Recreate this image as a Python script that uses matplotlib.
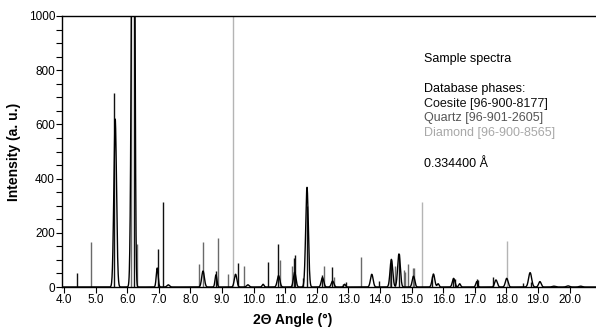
import numpy as np
import matplotlib
matplotlib.use('Agg')
import matplotlib.pyplot as plt

plt.rcParams['font.family'] = ['Liberation Sans', 'DejaVu Sans']

# sample spectrum peaks: position (deg), height, width (sigma)
peak_pos = [5.62, 6.17, 6.22, 6.95, 7.30, 8.40, 8.81, 9.43, 9.82, 10.30, 10.79, 11.30,
            11.69, 12.18, 12.50, 12.88, 13.74, 14.36, 14.60, 15.06, 15.69, 15.84, 16.33,
            16.52, 17.06, 17.67, 18.01, 18.75, 19.06, 19.50, 19.95, 20.35]
peak_int = [620, 1600, 1200, 70, 8, 59, 45, 47, 8, 10, 42, 55,
            368, 35, 22, 10, 47, 102, 122, 40, 48, 12, 32,
            12, 20, 26, 32, 53, 20, 3, 4, 3]
peak_wid = [0.042, 0.04, 0.03, 0.03, 0.04, 0.042, 0.03, 0.04, 0.04, 0.03, 0.042, 0.04,
            0.042, 0.04, 0.04, 0.03, 0.042, 0.042, 0.042, 0.04, 0.042, 0.03, 0.04,
            0.03, 0.03, 0.042, 0.042, 0.048, 0.04, 0.05, 0.05, 0.05]

# database sticks
coesite_pos = [4.40, 5.59, 6.22, 6.96, 7.13, 8.81, 9.51, 10.45, 10.77, 11.29, 11.32, 11.57,
               11.68, 12.15, 12.47, 12.84, 12.92, 13.98, 14.36, 14.60, 15.63, 16.30, 16.36,
               17.06, 17.11, 17.57, 18.53, 18.78]
coesite_int = [50, 716, 2000, 140, 312, 59, 87, 93, 157, 106, 118, 32,
               300, 44, 74, 10, 20, 22, 100, 120, 40, 30, 28,
               28, 26, 38, 16, 20]
quartz_pos = [4.85, 6.12, 6.32, 8.26, 8.40, 8.86, 9.18, 9.71, 10.83, 11.22, 12.23, 12.54,
              13.40, 14.33, 14.47, 14.75, 14.80, 14.88, 15.05, 15.09]
quartz_int = [167, 2000, 157, 85, 167, 182, 49, 79, 100, 77, 77, 38,
              112, 90, 77, 63, 57, 84, 71, 71]
diamond_pos = [9.36, 15.33, 18.03]
diamond_int = [2000, 315, 171]

x = np.linspace(3.9, 20.9, 4000)
y = np.zeros_like(x)
for p, h, w in zip(peak_pos, peak_int, peak_wid):
    y += h * np.exp(-0.5 * ((x - p) / w) ** 2)

fig = plt.figure(figsize=(5.96, 3.27), dpi=100)
ax = fig.add_axes([62/596, 1-287/327, 1-62/596, (287-16)/327])

ax.vlines(diamond_pos, 0, diamond_int, colors='#b4b4b4', lw=1.0)
ax.vlines(quartz_pos, 0, quartz_int, colors='#6a6a6a', lw=1.0)
ax.vlines(coesite_pos, 0, coesite_int, colors='#111111', lw=1.0)
ax.plot(x, y, color='black', lw=1.0)

ax.set_xlim(3.937, 20.835)
ax.set_ylim(0, 1000)
ax.set_xticks(np.arange(4, 21, 1.0))
ax.set_xticklabels(['%.1f' % v for v in np.arange(4, 21, 1.0)])
ax.set_yticks(np.arange(0, 1001, 200))
ax.set_yticks(np.arange(0, 1001, 50), minor=True)
ax.tick_params(axis='both', labelsize=8.5, length=4, width=0.8, pad=1)
ax.tick_params(axis='y', which='minor', length=4, width=0.8)
ax.spines['right'].set_visible(False)
for s in ['left', 'bottom', 'top']:
    ax.spines[s].set_linewidth(1.0)

ax.set_xlabel('2Θ Angle (°)', fontsize=10, fontweight='bold')
ax.set_ylabel('Intensity (a. u.)', fontsize=10, fontweight='bold')
ax.xaxis.set_label_coords((293-62)/534, -(313-287)/271, transform=ax.transAxes)
ax.yaxis.set_label_coords(-(62-21)/534, 0.5, transform=ax.transAxes)

tx = 0.678
ax.text(tx, 1-(59-16)/271, 'Sample spectra', transform=ax.transAxes, fontsize=9, va='center')
ax.text(tx, 1-(89-16)/271, 'Database phases:', transform=ax.transAxes, fontsize=9, va='center')
ax.text(tx, 1-(104-16)/271, 'Coesite [96-900-8177]', transform=ax.transAxes, fontsize=9, va='center', color='#111111')
ax.text(tx, 1-(118-16)/271, 'Quartz [96-901-2605]', transform=ax.transAxes, fontsize=9, va='center', color='#555555')
ax.text(tx, 1-(133-16)/271, 'Diamond [96-900-8565]', transform=ax.transAxes, fontsize=9, va='center', color='#a8a8a8')
ax.text(tx, 1-(164-16)/271, '0.334400 Å', transform=ax.transAxes, fontsize=9, va='center')

fig.savefig('out.png', dpi=100)
